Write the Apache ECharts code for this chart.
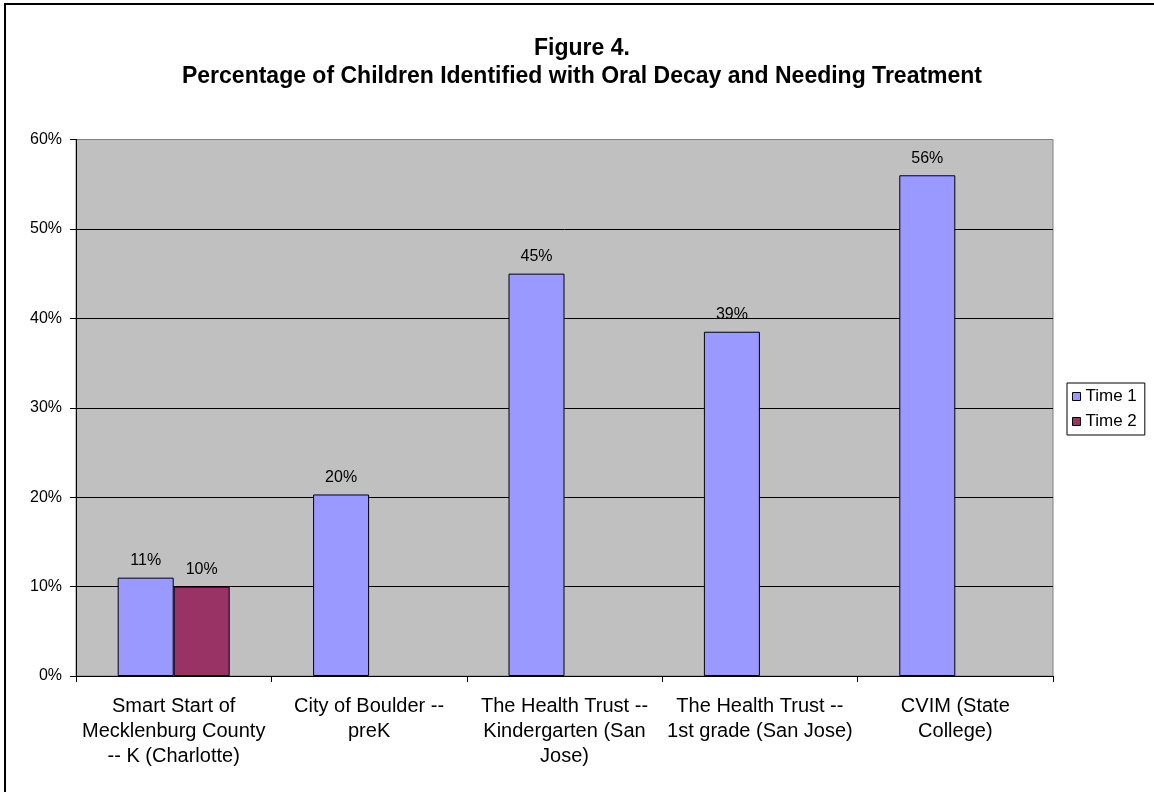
<!DOCTYPE html>
<html>
<head>
<meta charset="utf-8">
<title>Figure 4</title>
<script src="https://cdn.jsdelivr.net/npm/echarts@6/dist/echarts.min.js"></script>
<style>
  html, body { margin: 0; padding: 0; background: #ffffff; }
  #chart { width: 1154px; height: 792px; }
</style>
</head>
<body>
<div id="chart"></div>
<script>
// Sites (category labels broken into lines as printed under the axis)
const categories = [
  'Smart Start of\nMecklenburg County\n-- K (Charlotte)',
  'City of Boulder --\npreK',
  'The Health Trust --\nKindergarten (San\nJose)',
  'The Health Trust --\n1st grade (San Jose)',
  'CVIM (State\nCollege)'
];
// Percent of children with oral decay needing treatment
const time1 = [11, 20.3, 45, 38.5, 56];
const time2 = [10, null, null, null, null];
const seriesNames = ['Time 1', 'Time 2'];
const yTicks = { min: 0, max: 60, interval: 10 };

const titleLine1 = 'Figure 4.';
const titleLine2 = 'Percentage of Children Identified with Oral Decay and Needing Treatment';

const FONT = "'Liberation Sans', Arial, sans-serif";
const chart = echarts.init(document.getElementById('chart'), null, { renderer: 'canvas' });

const barLabel = {
  show: true,
  position: 'top',
  distance: 9,
  color: '#000',
  fontFamily: FONT,
  fontSize: 16,
  formatter: p => Math.round(p.value) + '%'
};

// gridlines are black; the top edge of the plot stays grey
const gridLineColors = ['#000', '#000', '#000', '#000', '#000', '#000', '#808080'];

chart.setOption({
  backgroundColor: '#ffffff',
  animation: false,
  graphic: [
    {
      type: 'rect',
      shape: { x: 5, y: 4, width: 1300, height: 1000 },
      style: { fill: 'none', stroke: '#000', lineWidth: 2 },
      silent: true
    },
    {
      type: 'text',
      x: 582, y: 49,
      style: {
        text: titleLine1,
        font: 'bold 23px ' + FONT,
        fill: '#000',
        textAlign: 'center',
        textVerticalAlign: 'middle'
      }
    },
    {
      type: 'text',
      x: 582, y: 77,
      style: {
        text: titleLine2,
        font: 'bold 23px ' + FONT,
        fill: '#000',
        textAlign: 'center',
        textVerticalAlign: 'middle'
      }
    }
  ],
  legend: {
    orient: 'vertical',
    left: 1067,
    top: 383,
    padding: [5, 8, 5, 5],
    itemGap: 8,
    itemWidth: 8,
    itemHeight: 8,
    icon: 'rect',
    borderColor: '#000',
    borderWidth: 1,
    backgroundColor: '#fff',
    textStyle: { color: '#000', fontFamily: FONT, fontSize: 17 },
    data: seriesNames.map(n => ({ name: n, itemStyle: { borderColor: '#000', borderWidth: 1 } }))
  },
  grid: {
    left: 76,
    top: 139.5,
    right: 101,
    bottom: 116,
    show: true,
    backgroundColor: '#C0C0C0',
    borderColor: '#808080',
    borderWidth: 1
  },
  xAxis: {
    type: 'category',
    data: categories,
    boundaryGap: true,
    axisLine: { show: true, lineStyle: { color: '#000', width: 1 } },
    axisTick: { show: true, length: 6, lineStyle: { color: '#000' } },
    axisLabel: {
      interval: 0,
      margin: 18,
      color: '#000',
      fontFamily: FONT,
      fontSize: 20,
      lineHeight: 25,
      align: 'center'
    },
    splitLine: { show: false }
  },
  yAxis: {
    type: 'value',
    min: yTicks.min,
    max: yTicks.max,
    interval: yTicks.interval,
    axisLine: { show: true, lineStyle: { color: '#000', width: 1 } },
    axisTick: { show: true, length: 6, lineStyle: { color: '#000' } },
    axisLabel: {
      margin: 14,
      color: '#000',
      fontFamily: FONT,
      fontSize: 16,
      formatter: '{value}%'
    },
    splitLine: { show: true, lineStyle: { color: gridLineColors, width: 1 } }
  },
  series: [
    {
      name: seriesNames[0],
      type: 'bar',
      data: time1,
      barWidth: 56,
      barGap: '0%',
      itemStyle: { color: '#9999FF', borderColor: '#000', borderWidth: 1 },
      label: barLabel
    },
    {
      name: seriesNames[1],
      type: 'bar',
      data: time2,
      barWidth: 56,
      barGap: '0%',
      itemStyle: { color: '#993366', borderColor: '#000', borderWidth: 1 },
      label: barLabel
    }
  ]
});
</script>
</body>
</html>
